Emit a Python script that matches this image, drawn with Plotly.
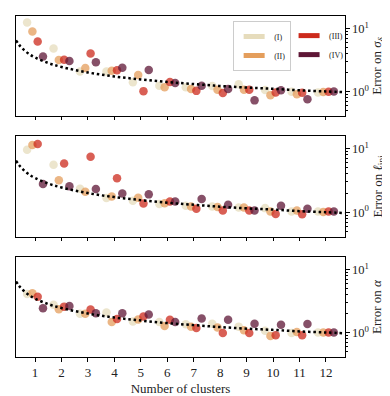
import plotly.graph_objects as go

# number of clusters
clusters = [1, 2, 3, 4, 5, 6, 7, 8, 9, 10, 11, 12]
groups = ['(I)', '(II)', '(III)', '(IV)']

# error on sigma_delta
sigma = {
    '(I)':   [12.5, 4.8, 2.08, 2.08, 1.40, 1.23, 1.16, 1.22, 1.30, 1.05, 0.99, 0.96],
    '(II)':  [9.0, 3.16, 2.35, 2.13, 1.83, 1.16, 1.09, 1.06, 1.06, 0.87, 0.90, 0.98],
    '(III)': [6.2, 3.2, 4.0, 2.18, 1.01, 1.41, 1.02, 0.94, 1.06, 0.96, 0.95, 0.99],
    '(IV)':  [3.6, 3.05, 2.9, 2.38, 2.2, 1.36, 1.23, 1.09, 0.72, 1.04, 0.75, 1.0],
}
# error on l_inj
linj = {
    '(I)':   [9.6, 5.6, 2.34, 1.67, 1.51, 1.35, 1.26, 1.23, 1.19, 1.16, 1.03, 1.03],
    '(II)':  [11.4, 3.18, 2.1, 1.77, 1.69, 1.39, 1.23, 1.21, 1.19, 1.03, 1.06, 1.01],
    '(III)': [11.9, 5.85, 7.5, 3.43, 1.37, 1.48, 1.13, 1.06, 1.06, 0.94, 0.93, 1.03],
    '(IV)':  [2.78, 2.56, 2.32, 1.98, 1.91, 1.48, 1.61, 1.31, 1.06, 1.26, 1.13, 1.03],
}
# error on alpha
alpha = {
    '(I)':   [4.1, 2.77, 1.98, 2.08, 1.5, 1.47, 1.35, 1.38, 1.24, 1.07, 0.98, 1.0],
    '(II)':  [4.2, 2.34, 1.98, 1.47, 1.61, 1.27, 1.23, 1.2, 1.09, 0.88, 1.02, 1.0],
    '(III)': [3.7, 2.58, 2.32, 1.64, 1.8, 1.6, 1.18, 0.98, 0.98, 0.9, 0.9, 1.0],
    '(IV)':  [2.43, 2.64, 2.03, 2.03, 1.93, 1.47, 1.67, 1.6, 1.38, 1.33, 1.37, 1.0],
}

# dotted reference curve
ref_x = [0.28, 0.4, 0.55, 0.75, 1, 1.5, 2, 3, 4, 5, 6, 7, 8, 9, 10, 11, 12, 12.72]
ref_y = [6.5, 5.5, 4.7, 4.0, 3.46, 2.83, 2.45, 2.0, 1.73, 1.55, 1.41, 1.31,
         1.22, 1.15, 1.1, 1.04, 1.0, 0.97]

colors = {'(I)': '#e6dcbc', '(II)': '#e49e5c', '(III)': '#cc2a1c', '(IV)': '#5e1636'}
offsets = {'(I)': -0.3, '(II)': -0.1, '(III)': 0.1, '(IV)': 0.3}

panels = [
    (sigma, 'Error on <i>σ</i><sub><i>δ</i></sub>'),
    (linj, 'Error on <i>ℓ</i><sub>inj</sub>'),
    (alpha, 'Error on <i>α</i>'),
]
domains = [[0.707, 1.0], [0.352, 0.648], [0.0, 0.293]]

FONT = 'Liberation Serif'
fig = go.Figure()

for i, (data, label) in enumerate(panels):
    xa = 'x' if i == 0 else f'x{i+1}'
    ya = 'y' if i == 0 else f'y{i+1}'
    for g in groups:
        fig.add_trace(go.Scatter(
            x=[n + offsets[g] for n in clusters], y=data[g],
            mode='markers', xaxis=xa, yaxis=ya, showlegend=False,
            marker=dict(color=colors[g], size=8.5, opacity=0.75, line=dict(width=0)),
        ))
    fig.add_trace(go.Scatter(
        x=ref_x, y=ref_y, mode='lines', xaxis=xa, yaxis=ya, showlegend=False,
        line=dict(color='black', width=2.5, dash='2.5px,2.8px', shape='spline'),
    ))

# legend entries (patch-like)
for g in groups:
    fig.add_trace(go.Scatter(
        x=[None], y=[None], mode='markers', name=g,
        legend='legend' if g in ('(I)', '(II)') else 'legend2',
        marker=dict(symbol='line-ew', size=15, color=colors[g],
                    line=dict(color=colors[g], width=5)),
    ))

minor_vals = [0.4, 0.5, 0.6, 0.7, 0.8, 0.9, 2, 3, 4, 5, 6, 7, 8, 9]
for i, (data, label) in enumerate(panels):
    sx = '' if i == 0 else str(i + 1)
    fig.layout['xaxis' + sx] = dict(
        domain=[0, 1], anchor='y' + sx, range=[0.28, 12.72],
        tickvals=clusters, ticks='outside', ticklen=3.5, tickcolor='black',
        showticklabels=(i == 2), showline=True, linecolor='black', linewidth=1,
        mirror=True, showgrid=False, zeroline=False,
        tickfont=dict(family=FONT, size=13, color='#222'),
        title=dict(text='Number of clusters' if i == 2 else None,
                   font=dict(family=FONT, size=13, color='#222'), standoff=4),
    )
    fig.layout['yaxis' + sx] = dict(
        domain=domains[i], anchor='x' + sx, type='log', range=[-0.39, 1.2],
        side='right', tickvals=[1, 10], ticktext=['10<sup>0</sup>', '10<sup>1</sup>'],
        ticks='outside', ticklen=3.5, tickcolor='black',
        minor=dict(tickvals=minor_vals, ticks='outside', ticklen=2, tickcolor='black'),
        showline=True, linecolor='black', linewidth=1, mirror=True,
        showgrid=False, zeroline=False,
        tickfont=dict(family=FONT, size=12.5, color='#222'),
        title=dict(text=label, font=dict(family=FONT, size=13, color='#222'), standoff=0),
    )

fig.update_layout(
    width=390, height=396,
    margin=dict(l=8, r=53, t=8, b=47),
    plot_bgcolor='white', paper_bgcolor='white',
    legend=dict(x=0.66, y=0.985, xanchor='left', yanchor='top',
                bgcolor='rgba(255,255,255,0.8)', bordercolor='#cccccc', borderwidth=1,
                font=dict(family=FONT, size=8, color='#222'),
                entrywidth=62, itemwidth=30, tracegroupgap=0),
    legend2=dict(x=0.83, y=0.985, xanchor='left', yanchor='top',
                 bgcolor='rgba(0,0,0,0)', borderwidth=0,
                 font=dict(family=FONT, size=8, color='#222'),
                 itemwidth=30, tracegroupgap=0),
)

fig.write_html("out.html")
